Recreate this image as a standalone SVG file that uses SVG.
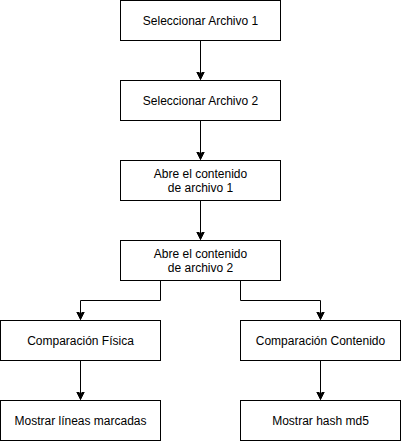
<svg xmlns="http://www.w3.org/2000/svg" width="401" height="441" viewBox="0 0 401 441">
<style>
.box{fill:#ffffff;stroke:#000000;stroke-width:1}
.lbl{font-family:"Liberation Sans",Arial,sans-serif;font-size:12px;fill:#000000;text-anchor:middle}
.edge{fill:none;stroke:#000000;stroke-width:1}
</style>
<defs>
<marker id="arr" markerWidth="10" markerHeight="10" refX="8" refY="4" orient="auto" markerUnits="userSpaceOnUse">
<path d="M0,0 L8,4 L0,8 L2,4 Z" fill="#000000" stroke="#000000" stroke-width="1"/>
</marker>
</defs>
<rect width="401" height="441" fill="#ffffff"/>
<g id="connectors">
<path class="edge" d="M200.5,40.5 V79.5" marker-end="url(#arr)"/>
<path class="edge" d="M200.5,120.5 V159.5" marker-end="url(#arr)"/>
<path class="edge" d="M200.5,200.5 V239.5" marker-end="url(#arr)"/>
<path class="edge" d="M160.5,280.5 V300.5 H80.5 V319.5" marker-end="url(#arr)"/>
<path class="edge" d="M240.5,280.5 V300.5 H320.5 V319.5" marker-end="url(#arr)"/>
<path class="edge" d="M80.5,360.5 V399.5" marker-end="url(#arr)"/>
<path class="edge" d="M320.5,360.5 V399.5" marker-end="url(#arr)"/>
</g>
<g id="n1"><rect class="box" x="120.5" y="0.5" width="160" height="40"/><text class="lbl" x="200.5" y="25">Seleccionar Archivo 1</text></g>
<g id="n2"><rect class="box" x="120.5" y="80.5" width="160" height="40"/><text class="lbl" x="200.5" y="105">Seleccionar Archivo 2</text></g>
<g id="n3"><rect class="box" x="120.5" y="160.5" width="160" height="40"/><text class="lbl" x="200.5" y="178">Abre el contenido</text><text class="lbl" x="200.5" y="192">de archivo 1</text></g>
<g id="n4"><rect class="box" x="120.5" y="240.5" width="160" height="40"/><text class="lbl" x="200.5" y="258">Abre el contenido</text><text class="lbl" x="200.5" y="272">de archivo 2</text></g>
<g id="n5"><rect class="box" x="0.5" y="320.5" width="160" height="40"/><text class="lbl" x="80.5" y="345">Comparación Física</text></g>
<g id="n6"><rect class="box" x="240.5" y="320.5" width="160" height="40"/><text class="lbl" x="320.5" y="345">Comparación Contenido</text></g>
<g id="n7"><rect class="box" x="0.5" y="400.5" width="160" height="40"/><text class="lbl" x="80.5" y="425">Mostrar líneas marcadas</text></g>
<g id="n8"><rect class="box" x="240.5" y="400.5" width="160" height="40"/><text class="lbl" x="320.5" y="425">Mostrar hash md5</text></g>
</svg>
